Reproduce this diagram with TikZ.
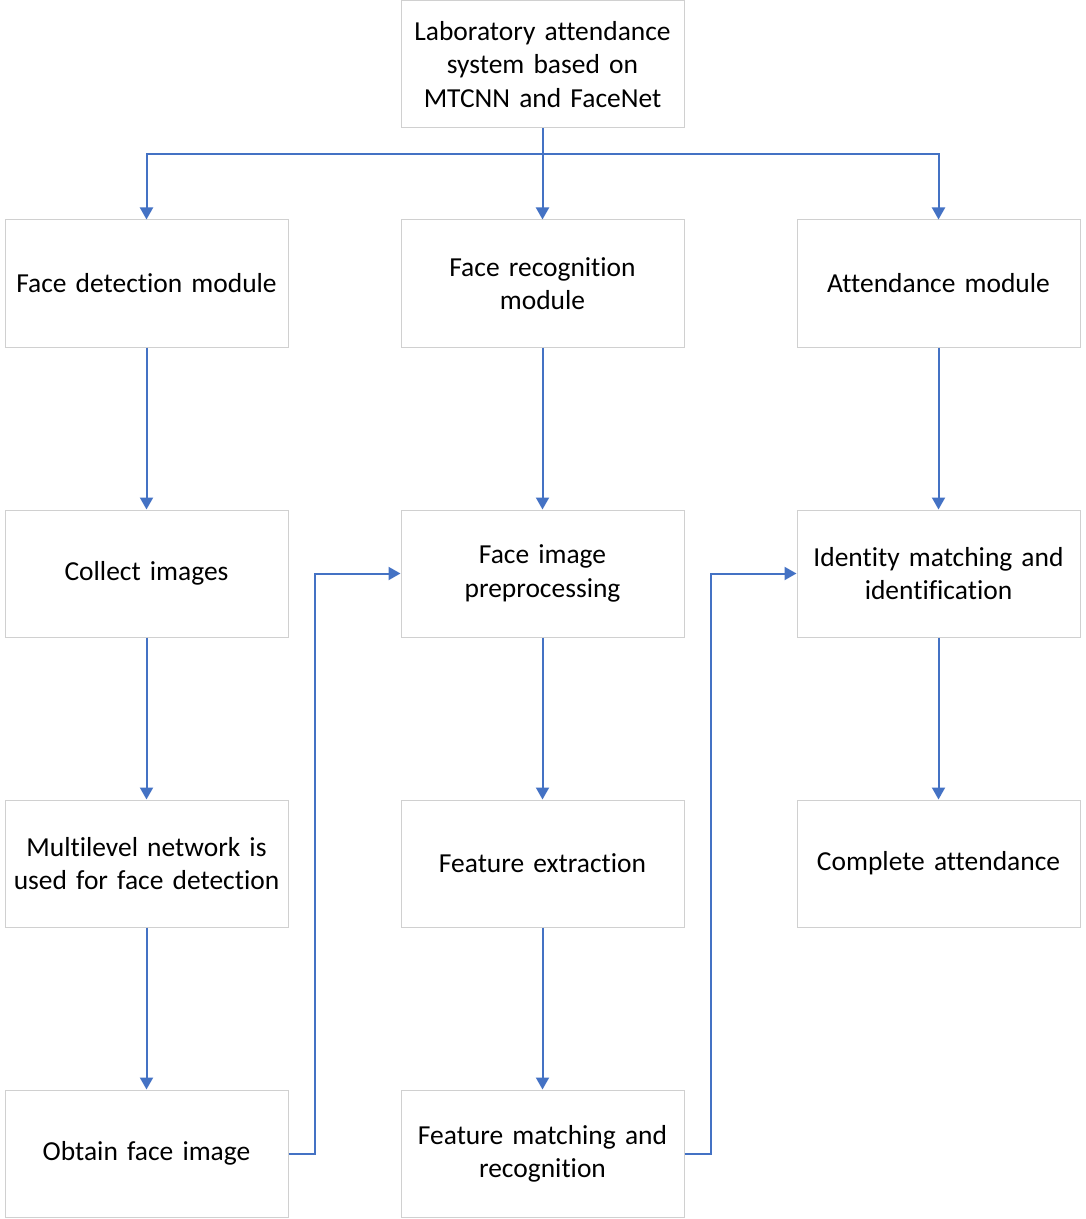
\documentclass[tikz,border=0pt]{standalone}
\usepackage{fontspec}
\setmainfont{Carlito}[Ligatures=CommonOff]
\usetikzlibrary{arrows.meta}
\definecolor{boxgray}{HTML}{D0D0D0}
\definecolor{linkblue}{HTML}{4472C4}
\begin{document}
\begin{tikzpicture}[x=0.75pt,y=-0.75pt,
  box/.style={draw=boxgray,line width=0.75pt,fill=white,minimum width=212.25pt,minimum height=95.25pt,inner sep=0pt,align=center,text width=208pt,font=\fontsize{20.6}{25}\selectfont},
  link/.style={draw=linkblue,line width=1.5pt,-{Triangle[length=9pt,width=9.75pt]}}]
\useasboundingbox (0,0) rectangle (1085,1219);
\node[box] (top) at (542.5,64.5) {Laboratory attendance\\system based on\\MTCNN and FaceNet};
\node[box] (fd) at (146.5,283.5) {Face detection module};
\node[box] (fr) at (542.5,283.5) {Face recognition\\module};
\node[box] (am) at (938.5,283.5) {Attendance module};
\node[box] (ci) at (146.5,573.5) {Collect images};
\node[box] (fp) at (542.5,573.5) {Face image\\preprocessing};
\node[box] (im) at (938.5,573.5) {Identity matching and\\identification};
\node[box] (mn) at (146.5,863.5) {Multilevel network is\\used for face detection};
\node[box] (fe) at (542.5,863.5) {Feature extraction};
\node[box] (ca) at (938.5,863.5) {Complete attendance};
\node[box] (of) at (146.5,1153.5) {Obtain face image};
\node[box] (fm) at (542.5,1153.5) {Feature matching and\\recognition};
\coordinate (split) at (542.5,154);
\draw[link] (top.south) -- (fr.north);
\draw[link] (split) -| (fd.north);
\draw[link] (split) -| (am.north);
\draw[link] (fd) -- (ci);
\draw[link] (ci) -- (mn);
\draw[link] (mn) -- (of);
\draw[link] (fr) -- (fp);
\draw[link] (fp) -- (fe);
\draw[link] (fe) -- (fm);
\draw[link] (am) -- (im);
\draw[link] (im) -- (ca);
\draw[link] (of.east) -- ++(26,0) |- (fp.west);
\draw[link] (fm.east) -- ++(26,0) |- (im.west);
\end{tikzpicture}
\end{document}
